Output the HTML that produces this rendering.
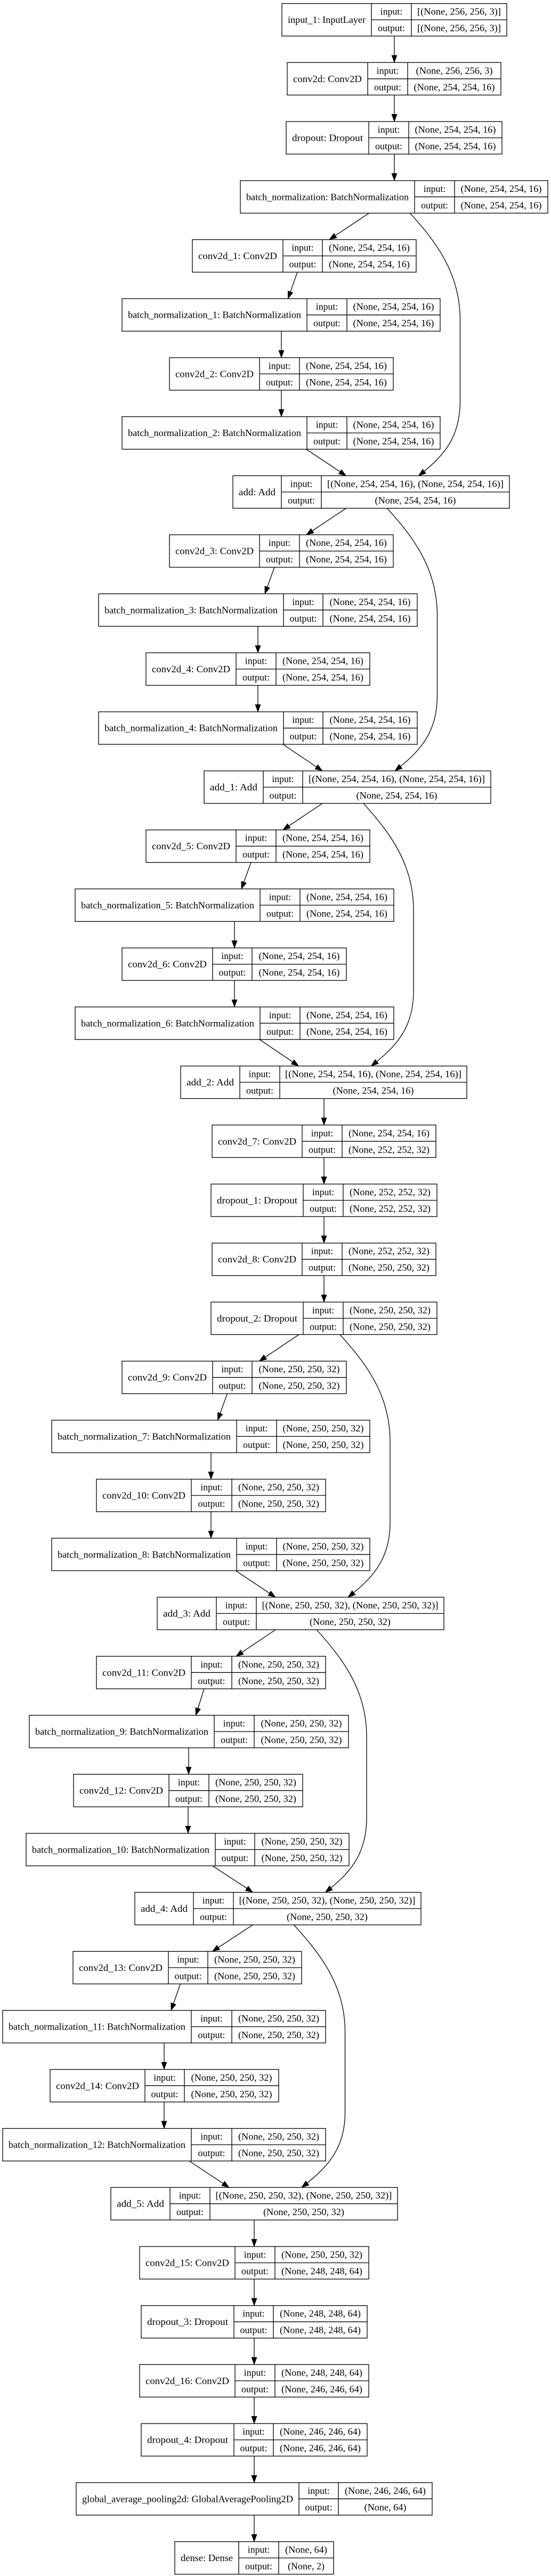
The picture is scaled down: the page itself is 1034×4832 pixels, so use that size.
<!DOCTYPE html>
<html><head><meta charset="utf-8"><style>
html,body{margin:0;padding:0;background:#fff;width:1034px;height:4832px;overflow:hidden}
svg{display:block}
text{font-family:"Liberation Serif",serif;font-size:18px;fill:#000;text-anchor:middle}
rect{fill:#fff;stroke:#000;stroke-width:1.3}
.g path{fill:none;stroke:#000;stroke-width:1.3}
.e{fill:none;stroke:#000;stroke-width:1.3}
</style></head><body>
<svg width="1034" height="4832" viewBox="0 0 1034 4832" xmlns="http://www.w3.org/2000/svg">
<defs><marker id="a" markerWidth="15" markerHeight="11" refX="14" refY="5.5" orient="auto" markerUnits="userSpaceOnUse"><path d="M0,0 L15,5.5 L0,11 z" fill="#000"/></marker></defs>

<!-- edges -->
<g class="e" marker-end="url(#a)">
<path class="e" marker-end="url(#a)" d="M740 67.6V117.3"/>
<path class="e" marker-end="url(#a)" d="M740 178.3V228"/>
<path class="e" marker-end="url(#a)" d="M740 289V338.8"/>
<path class="e" marker-end="url(#a)" d="M528 621.2V670.9"/>
<path class="e" marker-end="url(#a)" d="M528 731.9V781.6"/>
<path class="e" marker-end="url(#a)" d="M484 1174.8V1224.5"/>
<path class="e" marker-end="url(#a)" d="M484 1285.5V1335.2"/>
<path class="e" marker-end="url(#a)" d="M440 1728.4V1778.1"/>
<path class="e" marker-end="url(#a)" d="M440 1839.1V1888.8"/>
<path class="e" marker-end="url(#a)" d="M608 2060.6V2110.3"/>
<path class="e" marker-end="url(#a)" d="M608 2171.3V2221"/>
<path class="e" marker-end="url(#a)" d="M608 2282V2331.7"/>
<path class="e" marker-end="url(#a)" d="M608 2392.7V2442.4"/>
<path class="e" marker-end="url(#a)" d="M396 2724.9V2774.6"/>
<path class="e" marker-end="url(#a)" d="M396 2835.6V2885.3"/>
<path class="e" marker-end="url(#a)" d="M354 3278.5V3328.2"/>
<path class="e" marker-end="url(#a)" d="M353 3389.2V3438.9"/>
<path class="e" marker-end="url(#a)" d="M308 3832.1V3881.8"/>
<path class="e" marker-end="url(#a)" d="M308 3942.8V3992.5"/>
<path class="e" marker-end="url(#a)" d="M477 4164.2V4214"/>
<path class="e" marker-end="url(#a)" d="M477 4275V4324.7"/>
<path class="e" marker-end="url(#a)" d="M477 4385.7V4435.4"/>
<path class="e" marker-end="url(#a)" d="M477 4496.4V4546.1"/>
<path class="e" marker-end="url(#a)" d="M477 4607.1V4656.8"/>
<path class="e" marker-end="url(#a)" d="M477 4717.8V4767.6"/>

<path class="e" marker-end="url(#a)" d="M692.5 399.8L618 449.5"/>
<path class="e" marker-end="url(#a)" d="M558 510.5L540.5 560.2"/>
<path class="e" marker-end="url(#a)" d="M574.5 842.6L649.5 892.4"/>
<path class="e" marker-end="url(#a)" d="M769.5 399.8C814.5 449.8 863.5 509.8 863.5 599.8L863.5 752.4C863.5 822.4 830.5 857.4 785.5 892.4"/>

<path class="e" marker-end="url(#a)" d="M649.5 953.4L575 1003.1"/>
<path class="e" marker-end="url(#a)" d="M515 1064.1L497 1113.8"/>
<path class="e" marker-end="url(#a)" d="M531 1396.2L605 1446"/>
<path class="e" marker-end="url(#a)" d="M726.5 953.4C771.5 1003.4 820.5 1063.4 820.5 1153.4L820.5 1306C820.5 1376 786 1411 741 1446"/>

<path class="e" marker-end="url(#a)" d="M605 1507L531 1556.7"/>
<path class="e" marker-end="url(#a)" d="M471 1617.7L453 1667.4"/>
<path class="e" marker-end="url(#a)" d="M487 1949.8L560.5 1999.6"/>
<path class="e" marker-end="url(#a)" d="M682 1507C727 1557 776 1617 776 1707L776 1859.6C776 1929.6 741.5 1964.6 696.5 1999.6"/>

<path class="e" marker-end="url(#a)" d="M561 2503.4L486.5 2553.2"/>
<path class="e" marker-end="url(#a)" d="M426.5 2614.2L408.5 2663.9"/>
<path class="e" marker-end="url(#a)" d="M442.5 2946.3L517 2996"/>
<path class="e" marker-end="url(#a)" d="M638 2503.4C683 2553.4 732 2613.4 732 2703.4L732 2856C732 2926 698 2961 653 2996"/>

<path class="e" marker-end="url(#a)" d="M517 3057L443 3106.8"/>
<path class="e" marker-end="url(#a)" d="M383 3167.8L367.5 3217.5"/>
<path class="e" marker-end="url(#a)" d="M399 3499.9L474.5 3549.6"/>
<path class="e" marker-end="url(#a)" d="M594 3057C639 3107 688 3167 688 3257L688 3409.6C688 3479.6 655.5 3514.6 610.5 3549.6"/>

<path class="e" marker-end="url(#a)" d="M474.5 3610.6L398.5 3660.4"/>
<path class="e" marker-end="url(#a)" d="M338.5 3721.4L321 3771.1"/>
<path class="e" marker-end="url(#a)" d="M355 4053.5L430 4103.2"/>
<path class="e" marker-end="url(#a)" d="M551.5 3610.6C596.5 3660.6 647.5 3720.6 647.5 3810.6L647.5 3963.2C647.5 4033.2 611 4068.2 566 4103.2"/>
</g>

<!-- nodes -->
<g class="g" transform="translate(0,6.6)"><rect x="529" y="0" width="422" height="61"/><path d="M697 0V61M772 0V61M697 30.5H951"/><text x="613" y="36.5" textLength="146" lengthAdjust="spacingAndGlyphs">input_1: InputLayer</text><text x="734.5" y="21" textLength="41.5" lengthAdjust="spacingAndGlyphs">input:</text><text x="734.5" y="52" textLength="51" lengthAdjust="spacingAndGlyphs">output:</text><text x="861.5" y="21" textLength="157" lengthAdjust="spacingAndGlyphs">[(None, 256, 256, 3)]</text><text x="861.5" y="52" textLength="157" lengthAdjust="spacingAndGlyphs">[(None, 256, 256, 3)]</text></g>

<g class="g" transform="translate(0,117.3)"><rect x="539" y="0" width="401" height="61"/><path d="M690 0V61M765 0V61M690 30.5H940"/><text x="614.5" y="36.5" textLength="129" lengthAdjust="spacingAndGlyphs">conv2d: Conv2D</text><text x="727.5" y="21" textLength="41.5" lengthAdjust="spacingAndGlyphs">input:</text><text x="727.5" y="52" textLength="51" lengthAdjust="spacingAndGlyphs">output:</text><text x="852.5" y="21" textLength="144" lengthAdjust="spacingAndGlyphs">(None, 256, 256, 3)</text><text x="852.5" y="52" textLength="152" lengthAdjust="spacingAndGlyphs">(None, 254, 254, 16)</text></g>

<g class="g" transform="translate(0,228)"><rect x="537" y="0" width="405" height="61"/><path d="M692 0V61M767 0V61M692 30.5H942"/><text x="614.5" y="36.5" textLength="133" lengthAdjust="spacingAndGlyphs">dropout: Dropout</text><text x="729.5" y="21" textLength="41.5" lengthAdjust="spacingAndGlyphs">input:</text><text x="729.5" y="52" textLength="51" lengthAdjust="spacingAndGlyphs">output:</text><text x="854.5" y="21" textLength="152" lengthAdjust="spacingAndGlyphs">(None, 254, 254, 16)</text><text x="854.5" y="52" textLength="152" lengthAdjust="spacingAndGlyphs">(None, 254, 254, 16)</text></g>

<g class="g" transform="translate(0,338.8)"><rect x="451" y="0" width="577" height="61"/><path d="M778 0V61M853 0V61M778 30.5H1028"/><text x="614.5" y="36.5" textLength="305" lengthAdjust="spacingAndGlyphs">batch_normalization: BatchNormalization</text><text x="815.5" y="21" textLength="41.5" lengthAdjust="spacingAndGlyphs">input:</text><text x="815.5" y="52" textLength="51" lengthAdjust="spacingAndGlyphs">output:</text><text x="940.5" y="21" textLength="152" lengthAdjust="spacingAndGlyphs">(None, 254, 254, 16)</text><text x="940.5" y="52" textLength="152" lengthAdjust="spacingAndGlyphs">(None, 254, 254, 16)</text></g>

<g class="g" transform="translate(0,449.5)"><rect x="361" y="0" width="420" height="61"/><path d="M531 0V61M605 0V61M531 30.5H781"/><text x="446" y="36.5" textLength="148" lengthAdjust="spacingAndGlyphs">conv2d_1: Conv2D</text><text x="568" y="21" textLength="41.5" lengthAdjust="spacingAndGlyphs">input:</text><text x="568" y="52" textLength="51" lengthAdjust="spacingAndGlyphs">output:</text><text x="693" y="21" textLength="152" lengthAdjust="spacingAndGlyphs">(None, 254, 254, 16)</text><text x="693" y="52" textLength="152" lengthAdjust="spacingAndGlyphs">(None, 254, 254, 16)</text></g>

<g class="g" transform="translate(0,560.2)"><rect x="229" y="0" width="597" height="61"/><path d="M576 0V61M651 0V61M576 30.5H826"/><text x="402.5" y="36.5" textLength="325" lengthAdjust="spacingAndGlyphs">batch_normalization_1: BatchNormalization</text><text x="613.5" y="21" textLength="41.5" lengthAdjust="spacingAndGlyphs">input:</text><text x="613.5" y="52" textLength="51" lengthAdjust="spacingAndGlyphs">output:</text><text x="738.5" y="21" textLength="152" lengthAdjust="spacingAndGlyphs">(None, 254, 254, 16)</text><text x="738.5" y="52" textLength="152" lengthAdjust="spacingAndGlyphs">(None, 254, 254, 16)</text></g>

<g class="g" transform="translate(0,670.9)"><rect x="318" y="0" width="420" height="61"/><path d="M487 0V61M562 0V61M487 30.5H738"/><text x="402.5" y="36.5" textLength="147" lengthAdjust="spacingAndGlyphs">conv2d_2: Conv2D</text><text x="524.5" y="21" textLength="41.5" lengthAdjust="spacingAndGlyphs">input:</text><text x="524.5" y="52" textLength="51" lengthAdjust="spacingAndGlyphs">output:</text><text x="650" y="21" textLength="152" lengthAdjust="spacingAndGlyphs">(None, 254, 254, 16)</text><text x="650" y="52" textLength="152" lengthAdjust="spacingAndGlyphs">(None, 254, 254, 16)</text></g>

<g class="g" transform="translate(0,781.6)"><rect x="229" y="0" width="597" height="61"/><path d="M576 0V61M651 0V61M576 30.5H826"/><text x="402.5" y="36.5" textLength="325" lengthAdjust="spacingAndGlyphs">batch_normalization_2: BatchNormalization</text><text x="613.5" y="21" textLength="41.5" lengthAdjust="spacingAndGlyphs">input:</text><text x="613.5" y="52" textLength="51" lengthAdjust="spacingAndGlyphs">output:</text><text x="738.5" y="21" textLength="152" lengthAdjust="spacingAndGlyphs">(None, 254, 254, 16)</text><text x="738.5" y="52" textLength="152" lengthAdjust="spacingAndGlyphs">(None, 254, 254, 16)</text></g>

<g class="g" transform="translate(0,892.4)"><rect x="437" y="0" width="519" height="61"/><path d="M528 0V61M603 0V61M528 30.5H956"/><text x="482.5" y="36.5" textLength="69" lengthAdjust="spacingAndGlyphs">add: Add</text><text x="565.5" y="21" textLength="41.5" lengthAdjust="spacingAndGlyphs">input:</text><text x="565.5" y="52" textLength="51" lengthAdjust="spacingAndGlyphs">output:</text><text x="779.5" y="21" textLength="331" lengthAdjust="spacingAndGlyphs">[(None, 254, 254, 16), (None, 254, 254, 16)]</text><text x="779.5" y="52" textLength="152" lengthAdjust="spacingAndGlyphs">(None, 254, 254, 16)</text></g>

<g class="g" transform="translate(0,1003.1)"><rect x="318" y="0" width="420" height="61"/><path d="M487 0V61M562 0V61M487 30.5H738"/><text x="402.5" y="36.5" textLength="147" lengthAdjust="spacingAndGlyphs">conv2d_3: Conv2D</text><text x="524.5" y="21" textLength="41.5" lengthAdjust="spacingAndGlyphs">input:</text><text x="524.5" y="52" textLength="51" lengthAdjust="spacingAndGlyphs">output:</text><text x="650" y="21" textLength="152" lengthAdjust="spacingAndGlyphs">(None, 254, 254, 16)</text><text x="650" y="52" textLength="152" lengthAdjust="spacingAndGlyphs">(None, 254, 254, 16)</text></g>

<g class="g" transform="translate(0,1113.8)"><rect x="185" y="0" width="598" height="61"/><path d="M532 0V61M606 0V61M532 30.5H783"/><text x="358.5" y="36.5" textLength="325" lengthAdjust="spacingAndGlyphs">batch_normalization_3: BatchNormalization</text><text x="569" y="21" textLength="41.5" lengthAdjust="spacingAndGlyphs">input:</text><text x="569" y="52" textLength="51" lengthAdjust="spacingAndGlyphs">output:</text><text x="694.5" y="21" textLength="152" lengthAdjust="spacingAndGlyphs">(None, 254, 254, 16)</text><text x="694.5" y="52" textLength="152" lengthAdjust="spacingAndGlyphs">(None, 254, 254, 16)</text></g>

<g class="g" transform="translate(0,1224.5)"><rect x="274" y="0" width="420" height="61"/><path d="M443 0V61M518 0V61M443 30.5H694"/><text x="358.5" y="36.5" textLength="147" lengthAdjust="spacingAndGlyphs">conv2d_4: Conv2D</text><text x="480.5" y="21" textLength="41.5" lengthAdjust="spacingAndGlyphs">input:</text><text x="480.5" y="52" textLength="51" lengthAdjust="spacingAndGlyphs">output:</text><text x="606" y="21" textLength="152" lengthAdjust="spacingAndGlyphs">(None, 254, 254, 16)</text><text x="606" y="52" textLength="152" lengthAdjust="spacingAndGlyphs">(None, 254, 254, 16)</text></g>

<g class="g" transform="translate(0,1335.2)"><rect x="185" y="0" width="598" height="61"/><path d="M532 0V61M606 0V61M532 30.5H783"/><text x="358.5" y="36.5" textLength="325" lengthAdjust="spacingAndGlyphs">batch_normalization_4: BatchNormalization</text><text x="569" y="21" textLength="41.5" lengthAdjust="spacingAndGlyphs">input:</text><text x="569" y="52" textLength="51" lengthAdjust="spacingAndGlyphs">output:</text><text x="694.5" y="21" textLength="152" lengthAdjust="spacingAndGlyphs">(None, 254, 254, 16)</text><text x="694.5" y="52" textLength="152" lengthAdjust="spacingAndGlyphs">(None, 254, 254, 16)</text></g>

<g class="g" transform="translate(0,1446)"><rect x="383" y="0" width="538" height="61"/><path d="M494 0V61M568 0V61M494 30.5H921"/><text x="438.5" y="36.5" textLength="89" lengthAdjust="spacingAndGlyphs">add_1: Add</text><text x="531" y="21" textLength="41.5" lengthAdjust="spacingAndGlyphs">input:</text><text x="531" y="52" textLength="51" lengthAdjust="spacingAndGlyphs">output:</text><text x="744.5" y="21" textLength="331" lengthAdjust="spacingAndGlyphs">[(None, 254, 254, 16), (None, 254, 254, 16)]</text><text x="744.5" y="52" textLength="152" lengthAdjust="spacingAndGlyphs">(None, 254, 254, 16)</text></g>

<g class="g" transform="translate(0,1556.7)"><rect x="274" y="0" width="420" height="61"/><path d="M443 0V61M518 0V61M443 30.5H694"/><text x="358.5" y="36.5" textLength="147" lengthAdjust="spacingAndGlyphs">conv2d_5: Conv2D</text><text x="480.5" y="21" textLength="41.5" lengthAdjust="spacingAndGlyphs">input:</text><text x="480.5" y="52" textLength="51" lengthAdjust="spacingAndGlyphs">output:</text><text x="606" y="21" textLength="152" lengthAdjust="spacingAndGlyphs">(None, 254, 254, 16)</text><text x="606" y="52" textLength="152" lengthAdjust="spacingAndGlyphs">(None, 254, 254, 16)</text></g>

<g class="g" transform="translate(0,1667.4)"><rect x="141" y="0" width="598" height="61"/><path d="M488 0V61M563 0V61M488 30.5H739"/><text x="314.5" y="36.5" textLength="325" lengthAdjust="spacingAndGlyphs">batch_normalization_5: BatchNormalization</text><text x="525.5" y="21" textLength="41.5" lengthAdjust="spacingAndGlyphs">input:</text><text x="525.5" y="52" textLength="51" lengthAdjust="spacingAndGlyphs">output:</text><text x="651" y="21" textLength="152" lengthAdjust="spacingAndGlyphs">(None, 254, 254, 16)</text><text x="651" y="52" textLength="152" lengthAdjust="spacingAndGlyphs">(None, 254, 254, 16)</text></g>

<g class="g" transform="translate(0,1778.1)"><rect x="229" y="0" width="421" height="61"/><path d="M399 0V61M473 0V61M399 30.5H650"/><text x="314" y="36.5" textLength="148" lengthAdjust="spacingAndGlyphs">conv2d_6: Conv2D</text><text x="436" y="21" textLength="41.5" lengthAdjust="spacingAndGlyphs">input:</text><text x="436" y="52" textLength="51" lengthAdjust="spacingAndGlyphs">output:</text><text x="561.5" y="21" textLength="152" lengthAdjust="spacingAndGlyphs">(None, 254, 254, 16)</text><text x="561.5" y="52" textLength="152" lengthAdjust="spacingAndGlyphs">(None, 254, 254, 16)</text></g>

<g class="g" transform="translate(0,1888.8)"><rect x="141" y="0" width="598" height="61"/><path d="M488 0V61M563 0V61M488 30.5H739"/><text x="314.5" y="36.5" textLength="325" lengthAdjust="spacingAndGlyphs">batch_normalization_6: BatchNormalization</text><text x="525.5" y="21" textLength="41.5" lengthAdjust="spacingAndGlyphs">input:</text><text x="525.5" y="52" textLength="51" lengthAdjust="spacingAndGlyphs">output:</text><text x="651" y="21" textLength="152" lengthAdjust="spacingAndGlyphs">(None, 254, 254, 16)</text><text x="651" y="52" textLength="152" lengthAdjust="spacingAndGlyphs">(None, 254, 254, 16)</text></g>

<g class="g" transform="translate(0,1999.6)"><rect x="339" y="0" width="537" height="61"/><path d="M450 0V61M525 0V61M450 30.5H876"/><text x="394.5" y="36.5" textLength="89" lengthAdjust="spacingAndGlyphs">add_2: Add</text><text x="487.5" y="21" textLength="41.5" lengthAdjust="spacingAndGlyphs">input:</text><text x="487.5" y="52" textLength="51" lengthAdjust="spacingAndGlyphs">output:</text><text x="700.5" y="21" textLength="331" lengthAdjust="spacingAndGlyphs">[(None, 254, 254, 16), (None, 254, 254, 16)]</text><text x="700.5" y="52" textLength="152" lengthAdjust="spacingAndGlyphs">(None, 254, 254, 16)</text></g>

<g class="g" transform="translate(0,2110.3)"><rect x="398" y="0" width="420" height="61"/><path d="M567 0V61M642 0V61M567 30.5H818"/><text x="482.5" y="36.5" textLength="147" lengthAdjust="spacingAndGlyphs">conv2d_7: Conv2D</text><text x="604.5" y="21" textLength="41.5" lengthAdjust="spacingAndGlyphs">input:</text><text x="604.5" y="52" textLength="51" lengthAdjust="spacingAndGlyphs">output:</text><text x="730" y="21" textLength="152" lengthAdjust="spacingAndGlyphs">(None, 254, 254, 16)</text><text x="730" y="52" textLength="152" lengthAdjust="spacingAndGlyphs">(None, 252, 252, 32)</text></g>

<g class="g" transform="translate(0,2221)"><rect x="396" y="0" width="424" height="61"/><path d="M569 0V61M644 0V61M569 30.5H820"/><text x="482.5" y="36.5" textLength="151" lengthAdjust="spacingAndGlyphs">dropout_1: Dropout</text><text x="606.5" y="21" textLength="41.5" lengthAdjust="spacingAndGlyphs">input:</text><text x="606.5" y="52" textLength="51" lengthAdjust="spacingAndGlyphs">output:</text><text x="732" y="21" textLength="152" lengthAdjust="spacingAndGlyphs">(None, 252, 252, 32)</text><text x="732" y="52" textLength="152" lengthAdjust="spacingAndGlyphs">(None, 252, 252, 32)</text></g>

<g class="g" transform="translate(0,2331.7)"><rect x="398" y="0" width="420" height="61"/><path d="M567 0V61M642 0V61M567 30.5H818"/><text x="482.5" y="36.5" textLength="147" lengthAdjust="spacingAndGlyphs">conv2d_8: Conv2D</text><text x="604.5" y="21" textLength="41.5" lengthAdjust="spacingAndGlyphs">input:</text><text x="604.5" y="52" textLength="51" lengthAdjust="spacingAndGlyphs">output:</text><text x="730" y="21" textLength="152" lengthAdjust="spacingAndGlyphs">(None, 252, 252, 32)</text><text x="730" y="52" textLength="152" lengthAdjust="spacingAndGlyphs">(None, 250, 250, 32)</text></g>

<g class="g" transform="translate(0,2442.4)"><rect x="396" y="0" width="424" height="61"/><path d="M569 0V61M644 0V61M569 30.5H820"/><text x="482.5" y="36.5" textLength="151" lengthAdjust="spacingAndGlyphs">dropout_2: Dropout</text><text x="606.5" y="21" textLength="41.5" lengthAdjust="spacingAndGlyphs">input:</text><text x="606.5" y="52" textLength="51" lengthAdjust="spacingAndGlyphs">output:</text><text x="732" y="21" textLength="152" lengthAdjust="spacingAndGlyphs">(None, 250, 250, 32)</text><text x="732" y="52" textLength="152" lengthAdjust="spacingAndGlyphs">(None, 250, 250, 32)</text></g>

<g class="g" transform="translate(0,2553.2)"><rect x="229" y="0" width="421" height="61"/><path d="M399 0V61M473 0V61M399 30.5H650"/><text x="314" y="36.5" textLength="148" lengthAdjust="spacingAndGlyphs">conv2d_9: Conv2D</text><text x="436" y="21" textLength="41.5" lengthAdjust="spacingAndGlyphs">input:</text><text x="436" y="52" textLength="51" lengthAdjust="spacingAndGlyphs">output:</text><text x="561.5" y="21" textLength="152" lengthAdjust="spacingAndGlyphs">(None, 250, 250, 32)</text><text x="561.5" y="52" textLength="152" lengthAdjust="spacingAndGlyphs">(None, 250, 250, 32)</text></g>

<g class="g" transform="translate(0,2663.9)"><rect x="97" y="0" width="597" height="61"/><path d="M444 0V61M519 0V61M444 30.5H694"/><text x="270.5" y="36.5" textLength="325" lengthAdjust="spacingAndGlyphs">batch_normalization_7: BatchNormalization</text><text x="481.5" y="21" textLength="41.5" lengthAdjust="spacingAndGlyphs">input:</text><text x="481.5" y="52" textLength="51" lengthAdjust="spacingAndGlyphs">output:</text><text x="606.5" y="21" textLength="152" lengthAdjust="spacingAndGlyphs">(None, 250, 250, 32)</text><text x="606.5" y="52" textLength="152" lengthAdjust="spacingAndGlyphs">(None, 250, 250, 32)</text></g>

<g class="g" transform="translate(0,2774.6)"><rect x="181" y="0" width="430" height="61"/><path d="M359 0V61M435 0V61M359 30.5H611"/><text x="270" y="36.5" textLength="156" lengthAdjust="spacingAndGlyphs">conv2d_10: Conv2D</text><text x="397" y="21" textLength="41.5" lengthAdjust="spacingAndGlyphs">input:</text><text x="397" y="52" textLength="51" lengthAdjust="spacingAndGlyphs">output:</text><text x="523" y="21" textLength="152" lengthAdjust="spacingAndGlyphs">(None, 250, 250, 32)</text><text x="523" y="52" textLength="152" lengthAdjust="spacingAndGlyphs">(None, 250, 250, 32)</text></g>

<g class="g" transform="translate(0,2885.3)"><rect x="97" y="0" width="597" height="61"/><path d="M444 0V61M519 0V61M444 30.5H694"/><text x="270.5" y="36.5" textLength="325" lengthAdjust="spacingAndGlyphs">batch_normalization_8: BatchNormalization</text><text x="481.5" y="21" textLength="41.5" lengthAdjust="spacingAndGlyphs">input:</text><text x="481.5" y="52" textLength="51" lengthAdjust="spacingAndGlyphs">output:</text><text x="606.5" y="21" textLength="152" lengthAdjust="spacingAndGlyphs">(None, 250, 250, 32)</text><text x="606.5" y="52" textLength="152" lengthAdjust="spacingAndGlyphs">(None, 250, 250, 32)</text></g>

<g class="g" transform="translate(0,2996)"><rect x="295" y="0" width="538" height="61"/><path d="M406 0V61M481 0V61M406 30.5H833"/><text x="350.5" y="36.5" textLength="89" lengthAdjust="spacingAndGlyphs">add_3: Add</text><text x="443.5" y="21" textLength="41.5" lengthAdjust="spacingAndGlyphs">input:</text><text x="443.5" y="52" textLength="51" lengthAdjust="spacingAndGlyphs">output:</text><text x="657" y="21" textLength="331" lengthAdjust="spacingAndGlyphs">[(None, 250, 250, 32), (None, 250, 250, 32)]</text><text x="657" y="52" textLength="152" lengthAdjust="spacingAndGlyphs">(None, 250, 250, 32)</text></g>

<g class="g" transform="translate(0,3106.8)"><rect x="181" y="0" width="430" height="61"/><path d="M359 0V61M435 0V61M359 30.5H611"/><text x="270" y="36.5" textLength="156" lengthAdjust="spacingAndGlyphs">conv2d_11: Conv2D</text><text x="397" y="21" textLength="41.5" lengthAdjust="spacingAndGlyphs">input:</text><text x="397" y="52" textLength="51" lengthAdjust="spacingAndGlyphs">output:</text><text x="523" y="21" textLength="152" lengthAdjust="spacingAndGlyphs">(None, 250, 250, 32)</text><text x="523" y="52" textLength="152" lengthAdjust="spacingAndGlyphs">(None, 250, 250, 32)</text></g>

<g class="g" transform="translate(0,3217.5)"><rect x="55" y="0" width="599" height="61"/><path d="M402 0V61M477 0V61M402 30.5H654"/><text x="228.5" y="36.5" textLength="325" lengthAdjust="spacingAndGlyphs">batch_normalization_9: BatchNormalization</text><text x="439.5" y="21" textLength="41.5" lengthAdjust="spacingAndGlyphs">input:</text><text x="439.5" y="52" textLength="51" lengthAdjust="spacingAndGlyphs">output:</text><text x="565.5" y="21" textLength="152" lengthAdjust="spacingAndGlyphs">(None, 250, 250, 32)</text><text x="565.5" y="52" textLength="152" lengthAdjust="spacingAndGlyphs">(None, 250, 250, 32)</text></g>

<g class="g" transform="translate(0,3328.2)"><rect x="138" y="0" width="430" height="61"/><path d="M317 0V61M392 0V61M317 30.5H568"/><text x="227.5" y="36.5" textLength="157" lengthAdjust="spacingAndGlyphs">conv2d_12: Conv2D</text><text x="354.5" y="21" textLength="41.5" lengthAdjust="spacingAndGlyphs">input:</text><text x="354.5" y="52" textLength="51" lengthAdjust="spacingAndGlyphs">output:</text><text x="480" y="21" textLength="152" lengthAdjust="spacingAndGlyphs">(None, 250, 250, 32)</text><text x="480" y="52" textLength="152" lengthAdjust="spacingAndGlyphs">(None, 250, 250, 32)</text></g>

<g class="g" transform="translate(0,3438.9)"><rect x="49" y="0" width="606" height="61"/><path d="M404 0V61M478 0V61M404 30.5H655"/><text x="226.5" y="36.5" textLength="333" lengthAdjust="spacingAndGlyphs">batch_normalization_10: BatchNormalization</text><text x="441" y="21" textLength="41.5" lengthAdjust="spacingAndGlyphs">input:</text><text x="441" y="52" textLength="51" lengthAdjust="spacingAndGlyphs">output:</text><text x="566.5" y="21" textLength="152" lengthAdjust="spacingAndGlyphs">(None, 250, 250, 32)</text><text x="566.5" y="52" textLength="152" lengthAdjust="spacingAndGlyphs">(None, 250, 250, 32)</text></g>

<g class="g" transform="translate(0,3549.6)"><rect x="253" y="0" width="537" height="61"/><path d="M363 0V61M438 0V61M363 30.5H790"/><text x="308" y="36.5" textLength="88" lengthAdjust="spacingAndGlyphs">add_4: Add</text><text x="400.5" y="21" textLength="41.5" lengthAdjust="spacingAndGlyphs">input:</text><text x="400.5" y="52" textLength="51" lengthAdjust="spacingAndGlyphs">output:</text><text x="614" y="21" textLength="331" lengthAdjust="spacingAndGlyphs">[(None, 250, 250, 32), (None, 250, 250, 32)]</text><text x="614" y="52" textLength="152" lengthAdjust="spacingAndGlyphs">(None, 250, 250, 32)</text></g>

<g class="g" transform="translate(0,3660.4)"><rect x="137" y="0" width="429" height="61"/><path d="M316 0V61M390 0V61M316 30.5H566"/><text x="226.5" y="36.5" textLength="157" lengthAdjust="spacingAndGlyphs">conv2d_13: Conv2D</text><text x="353" y="21" textLength="41.5" lengthAdjust="spacingAndGlyphs">input:</text><text x="353" y="52" textLength="51" lengthAdjust="spacingAndGlyphs">output:</text><text x="478" y="21" textLength="152" lengthAdjust="spacingAndGlyphs">(None, 250, 250, 32)</text><text x="478" y="52" textLength="152" lengthAdjust="spacingAndGlyphs">(None, 250, 250, 32)</text></g>

<g class="g" transform="translate(0,3771.1)"><rect x="5" y="0" width="606" height="61"/><path d="M359 0V61M435 0V61M359 30.5H611"/><text x="182" y="36.5" textLength="332" lengthAdjust="spacingAndGlyphs">batch_normalization_11: BatchNormalization</text><text x="397" y="21" textLength="41.5" lengthAdjust="spacingAndGlyphs">input:</text><text x="397" y="52" textLength="51" lengthAdjust="spacingAndGlyphs">output:</text><text x="523" y="21" textLength="152" lengthAdjust="spacingAndGlyphs">(None, 250, 250, 32)</text><text x="523" y="52" textLength="152" lengthAdjust="spacingAndGlyphs">(None, 250, 250, 32)</text></g>

<g class="g" transform="translate(0,3881.8)"><rect x="94" y="0" width="429" height="61"/><path d="M272 0V61M346 0V61M272 30.5H523"/><text x="183" y="36.5" textLength="156" lengthAdjust="spacingAndGlyphs">conv2d_14: Conv2D</text><text x="309" y="21" textLength="41.5" lengthAdjust="spacingAndGlyphs">input:</text><text x="309" y="52" textLength="51" lengthAdjust="spacingAndGlyphs">output:</text><text x="434.5" y="21" textLength="152" lengthAdjust="spacingAndGlyphs">(None, 250, 250, 32)</text><text x="434.5" y="52" textLength="152" lengthAdjust="spacingAndGlyphs">(None, 250, 250, 32)</text></g>

<g class="g" transform="translate(0,3992.5)"><rect x="5" y="0" width="606" height="61"/><path d="M359 0V61M435 0V61M359 30.5H611"/><text x="182" y="36.5" textLength="332" lengthAdjust="spacingAndGlyphs">batch_normalization_12: BatchNormalization</text><text x="397" y="21" textLength="41.5" lengthAdjust="spacingAndGlyphs">input:</text><text x="397" y="52" textLength="51" lengthAdjust="spacingAndGlyphs">output:</text><text x="523" y="21" textLength="152" lengthAdjust="spacingAndGlyphs">(None, 250, 250, 32)</text><text x="523" y="52" textLength="152" lengthAdjust="spacingAndGlyphs">(None, 250, 250, 32)</text></g>

<g class="g" transform="translate(0,4103.2)"><rect x="208" y="0" width="538" height="61"/><path d="M319 0V61M394 0V61M319 30.5H746"/><text x="263.5" y="36.5" textLength="89" lengthAdjust="spacingAndGlyphs">add_5: Add</text><text x="356.5" y="21" textLength="41.5" lengthAdjust="spacingAndGlyphs">input:</text><text x="356.5" y="52" textLength="51" lengthAdjust="spacingAndGlyphs">output:</text><text x="570" y="21" textLength="331" lengthAdjust="spacingAndGlyphs">[(None, 250, 250, 32), (None, 250, 250, 32)]</text><text x="570" y="52" textLength="152" lengthAdjust="spacingAndGlyphs">(None, 250, 250, 32)</text></g>

<g class="g" transform="translate(0,4214)"><rect x="262" y="0" width="430" height="61"/><path d="M441 0V61M516 0V61M441 30.5H692"/><text x="351.5" y="36.5" textLength="157" lengthAdjust="spacingAndGlyphs">conv2d_15: Conv2D</text><text x="478.5" y="21" textLength="41.5" lengthAdjust="spacingAndGlyphs">input:</text><text x="478.5" y="52" textLength="51" lengthAdjust="spacingAndGlyphs">output:</text><text x="604" y="21" textLength="152" lengthAdjust="spacingAndGlyphs">(None, 250, 250, 32)</text><text x="604" y="52" textLength="152" lengthAdjust="spacingAndGlyphs">(None, 248, 248, 64)</text></g>

<g class="g" transform="translate(0,4324.7)"><rect x="265" y="0" width="424" height="61"/><path d="M439 0V61M513 0V61M439 30.5H689"/><text x="352" y="36.5" textLength="152" lengthAdjust="spacingAndGlyphs">dropout_3: Dropout</text><text x="476" y="21" textLength="41.5" lengthAdjust="spacingAndGlyphs">input:</text><text x="476" y="52" textLength="51" lengthAdjust="spacingAndGlyphs">output:</text><text x="601" y="21" textLength="152" lengthAdjust="spacingAndGlyphs">(None, 248, 248, 64)</text><text x="601" y="52" textLength="152" lengthAdjust="spacingAndGlyphs">(None, 248, 248, 64)</text></g>

<g class="g" transform="translate(0,4435.4)"><rect x="262" y="0" width="430" height="61"/><path d="M441 0V61M516 0V61M441 30.5H692"/><text x="351.5" y="36.5" textLength="157" lengthAdjust="spacingAndGlyphs">conv2d_16: Conv2D</text><text x="478.5" y="21" textLength="41.5" lengthAdjust="spacingAndGlyphs">input:</text><text x="478.5" y="52" textLength="51" lengthAdjust="spacingAndGlyphs">output:</text><text x="604" y="21" textLength="152" lengthAdjust="spacingAndGlyphs">(None, 248, 248, 64)</text><text x="604" y="52" textLength="152" lengthAdjust="spacingAndGlyphs">(None, 246, 246, 64)</text></g>

<g class="g" transform="translate(0,4546.1)"><rect x="265" y="0" width="424" height="61"/><path d="M439 0V61M513 0V61M439 30.5H689"/><text x="352" y="36.5" textLength="152" lengthAdjust="spacingAndGlyphs">dropout_4: Dropout</text><text x="476" y="21" textLength="41.5" lengthAdjust="spacingAndGlyphs">input:</text><text x="476" y="52" textLength="51" lengthAdjust="spacingAndGlyphs">output:</text><text x="601" y="21" textLength="152" lengthAdjust="spacingAndGlyphs">(None, 246, 246, 64)</text><text x="601" y="52" textLength="152" lengthAdjust="spacingAndGlyphs">(None, 246, 246, 64)</text></g>

<g class="g" transform="translate(0,4656.8)"><rect x="143" y="0" width="668" height="61"/><path d="M561 0V61M635 0V61M561 30.5H811"/><text x="352" y="36.5" textLength="396" lengthAdjust="spacingAndGlyphs">global_average_pooling2d: GlobalAveragePooling2D</text><text x="598" y="21" textLength="41.5" lengthAdjust="spacingAndGlyphs">input:</text><text x="598" y="52" textLength="51" lengthAdjust="spacingAndGlyphs">output:</text><text x="723" y="21" textLength="152" lengthAdjust="spacingAndGlyphs">(None, 246, 246, 64)</text><text x="723" y="52" textLength="79" lengthAdjust="spacingAndGlyphs">(None, 64)</text></g>

<g class="g" transform="translate(0,4767.6)"><rect x="328" y="0" width="298" height="61"/><path d="M448 0V61M523 0V61M448 30.5H626"/><text x="388" y="36.5" textLength="98" lengthAdjust="spacingAndGlyphs">dense: Dense</text><text x="485.5" y="21" textLength="41.5" lengthAdjust="spacingAndGlyphs">input:</text><text x="485.5" y="52" textLength="51" lengthAdjust="spacingAndGlyphs">output:</text><text x="574.5" y="21" textLength="79" lengthAdjust="spacingAndGlyphs">(None, 64)</text><text x="574.5" y="52" textLength="69" lengthAdjust="spacingAndGlyphs">(None, 2)</text></g>
</svg>
</body></html>
